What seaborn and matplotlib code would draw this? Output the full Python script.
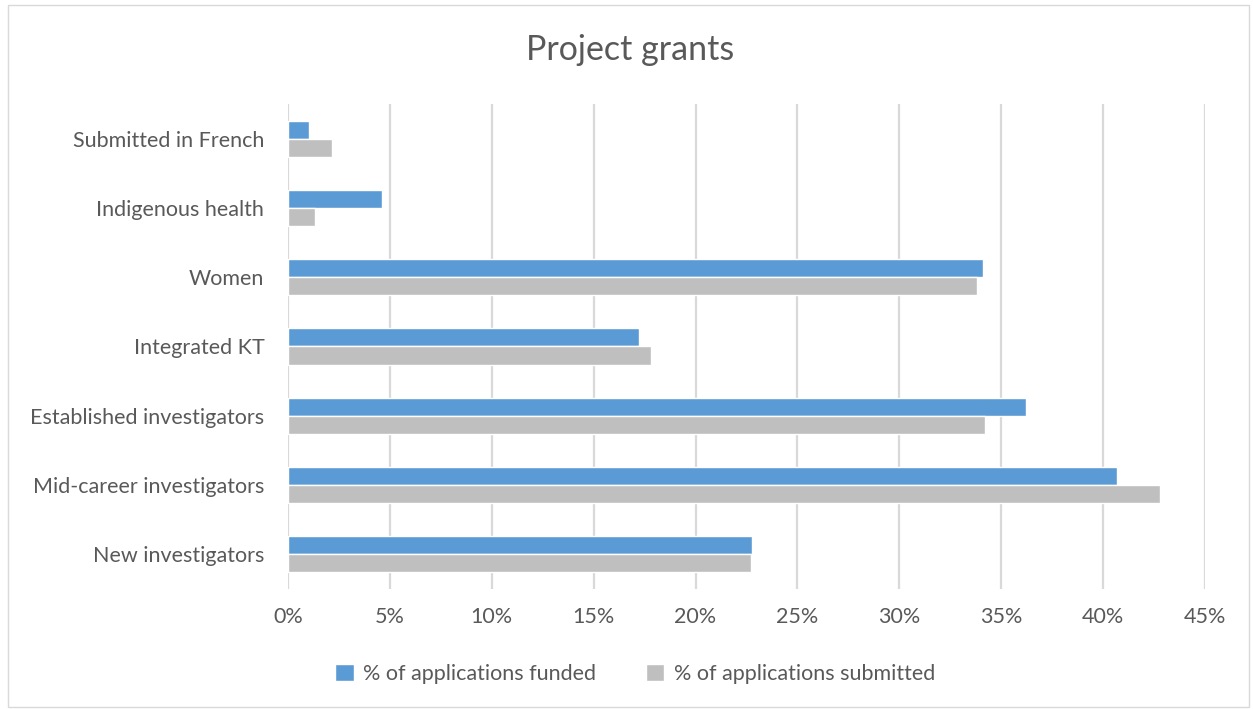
import pandas as pd
import matplotlib.pyplot as plt
import seaborn as sns
from matplotlib.patches import Rectangle, Patch
from matplotlib.ticker import PercentFormatter

# ─────────────── Data ───────────────
categories = [
    "Submitted in French",
    "Indigenous health",
    "Women",
    "Integrated KT",
    "Established investigators",
    "Mid-career investigators",
    "New investigators",
]
funded = [1.05, 4.63, 34.1, 17.25, 36.2, 40.7, 22.75]
submitted = [2.18, 1.31, 33.8, 17.83, 34.2, 42.8, 22.7]
series = ["% of applications funded", "% of applications submitted"]
x_ticks = [0, 5, 10, 15, 20, 25, 30, 35, 40, 45]

df = pd.DataFrame({"category": categories * 2,
                   "value": funded + submitted,
                   "series": [series[0]] * len(categories) + [series[1]] * len(categories)})

# ─────────────── Style ───────────────
sns.set_style("white")
plt.rcParams["font.family"] = ["Lato", "DejaVu Sans"]
TEXT = "#595959"
palette = {series[0]: "#5B9BD5", series[1]: "#BFBFBF"}

fig = plt.figure(figsize=(12.53, 7.09), dpi=100)
ax = fig.add_axes([0.2298, 0.1693, 0.7319, 0.684])

sns.barplot(data=df, x="value", y="category", hue="series", order=categories,
            hue_order=series, palette=palette, width=0.52, saturation=1,
            orient="h", legend=False, ax=ax)

ax.set_xlim(0, 45)
ax.set_xticks(x_ticks)
ax.xaxis.set_major_formatter(PercentFormatter(decimals=0))
ax.grid(axis="x", color="#D9D9D9", linewidth=1.6)
ax.set_axisbelow(True)
for s in ax.spines.values():
    s.set_visible(False)
ax.tick_params(axis="both", length=0, labelsize=15.5, labelcolor=TEXT)
ax.tick_params(axis="y", pad=17)
ax.tick_params(axis="x", pad=13)
ax.set_xlabel("")
ax.set_ylabel("")

# ─────────────── Title, legend, frame ───────────────
fig.text(0.503, 0.930, "Project grants", ha="center", va="center", fontsize=24.5, color=TEXT)
handles = [Patch(facecolor=palette[s], label=s) for s in series]
fig.legend(handles=handles, loc="center", bbox_to_anchor=(0.507, 0.049), ncol=2,
           frameon=False, fontsize=15.5, labelcolor=TEXT, handlelength=0.85,
           handleheight=0.85, handletextpad=0.45, columnspacing=2.3)
fig.patches.append(Rectangle((0.006, 0.003), 0.991, 0.99, transform=fig.transFigure,
                             fill=False, edgecolor="#D9D9D9", linewidth=1))

fig.savefig("out.png", dpi=100)
